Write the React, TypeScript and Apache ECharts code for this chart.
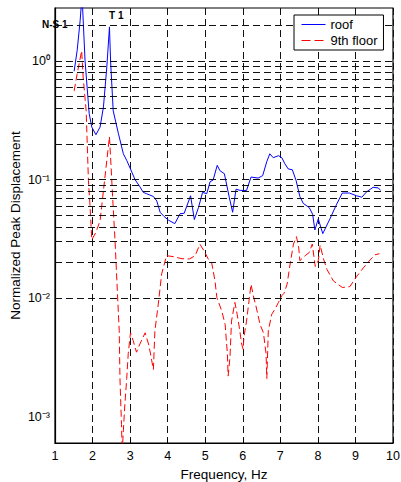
import React, { useEffect, useRef } from "react";
import * as echarts from "echarts";

// Roof response (frequency in Hz, normalized peak displacement)
const roofFreq = [
  1.51, 1.59, 1.67, 1.72, 1.8, 1.91, 1.98, 2.09, 2.2, 2.29, 2.38, 2.45, 2.48, 2.55, 2.69, 2.82,
  2.91, 3.0, 3.13, 3.26, 3.35, 3.44, 3.62, 3.71, 3.8, 3.9, 4.02, 4.19, 4.33, 4.44, 4.61, 4.71,
  4.82, 4.93, 5.04, 5.13, 5.21, 5.32, 5.39, 5.51, 5.64, 5.73, 5.82, 5.93, 6.1, 6.22, 6.41, 6.53,
  6.64, 6.72, 6.81, 6.95, 7.04, 7.12, 7.21, 7.32, 7.42, 7.52, 7.61, 7.77, 7.86, 7.92, 8.01, 8.13,
  8.32, 8.5, 8.65, 8.84, 9.03, 9.17, 9.3, 9.47, 9.61, 9.67,
];
const roofDisp = [
  0.82, 1.23, 2.2, 3.6, 1.01, 0.36, 0.277, 0.239, 0.277, 0.41, 0.89, 1.94, 1.0, 0.38, 0.243, 0.165,
  0.145, 0.125, 0.1, 0.087, 0.078, 0.076, 0.072, 0.066, 0.053, 0.049, 0.0455, 0.0425, 0.0515, 0.052, 0.073, 0.046,
  0.058, 0.078, 0.076, 0.096, 0.099, 0.132, 0.119, 0.112, 0.071, 0.053, 0.083, 0.081, 0.081, 0.105, 0.103, 0.108,
  0.142, 0.165, 0.153, 0.159, 0.153, 0.136, 0.123, 0.121, 0.098, 0.072, 0.063, 0.058, 0.051, 0.0376, 0.0466, 0.035,
  0.0466, 0.062, 0.077, 0.077, 0.073, 0.071, 0.079, 0.086, 0.085, 0.081,
];

// 9th floor response
const floorFreq = [
  1.51, 1.59, 1.71, 1.75, 1.83, 1.89, 1.93, 1.98, 2.09, 2.2, 2.24, 2.29, 2.38, 2.45, 2.48, 2.54,
  2.6, 2.66, 2.71, 2.73, 2.77, 2.79, 2.82, 2.86, 2.91, 2.95, 3.01, 3.08, 3.17, 3.26, 3.4, 3.5,
  3.62, 3.66, 3.75, 3.84, 3.97, 4.15, 4.38, 4.58, 4.73, 4.86, 4.97, 5.08, 5.17, 5.26, 5.31, 5.44,
  5.53, 5.59, 5.61, 5.66, 5.7, 5.79, 5.85, 5.91, 5.97, 6.01, 6.03, 6.1, 6.22, 6.28, 6.35, 6.46,
  6.55, 6.62, 6.64, 6.68, 6.77, 6.86, 6.95, 7.04, 7.1, 7.18, 7.26, 7.35, 7.43, 7.49, 7.52, 7.66,
  7.77, 7.85, 7.93, 8.01, 8.06, 8.15, 8.24, 8.41, 8.65, 8.85, 9.03, 9.21, 9.39, 9.52, 9.64,
];
const floorDisp = [
  0.56, 0.78, 1.22, 0.73, 0.38, 0.098, 0.062, 0.031, 0.036, 0.045, 0.058, 0.081, 0.145, 0.23, 0.154, 0.066,
  0.03, 0.0115, 0.0053, 0.0021, 0.00086, 0.0005, 0.00076, 0.00127, 0.0021, 0.0034, 0.0051, 0.0044, 0.0035, 0.0041, 0.0051, 0.004,
  0.0025, 0.0053, 0.0089, 0.016, 0.0228, 0.0224, 0.0215, 0.0214, 0.0228, 0.0285, 0.025, 0.0214, 0.02, 0.014, 0.0101, 0.0078,
  0.006, 0.0034, 0.0022, 0.0032, 0.0064, 0.0092, 0.0073, 0.0056, 0.0041, 0.0037, 0.0047, 0.0064, 0.0131, 0.0105, 0.0086, 0.006,
  0.0051, 0.0034, 0.0021, 0.0053, 0.0073, 0.0081, 0.0092, 0.0105, 0.011, 0.0131, 0.0194, 0.0286, 0.033, 0.0265, 0.0207, 0.0228,
  0.0243, 0.0286, 0.0185, 0.0207, 0.028, 0.0214, 0.0175, 0.014, 0.0123, 0.0125, 0.0152, 0.018, 0.021, 0.0232, 0.0237,
];

// Axis extents
const xMin = 1;
const xMax = 10;
const yMin = 6e-4;
const yMax = 2.8;

// Logarithmic grid lines: mantissas 1..9 for each decade
const decades = [-4, -3, -2, -1, 0];
const mantissas = [1, 2, 3, 4, 5, 6, 7, 8, 9];

const seriesNames = ["roof", "9th floor"];
const FONT = "'Liberation Sans', Arial, Helvetica, sans-serif";
const GRID_DASH = [7, 4];
const FLOOR_DASH = [7, 3.5];

const SUP: Record<string, string> = {
  "-": "\u207B",
  "0": "\u2070",
  "1": "\u00B9",
  "2": "\u00B2",
  "3": "\u00B3",
};

function powLabel(v: number): string {
  const e = Math.log10(v);
  const r = Math.round(e);
  if (Math.abs(e - r) > 1e-6) return "";
  const s = String(r)
    .split("")
    .map((c) => SUP[c] ?? c)
    .join("");
  return "10" + s;
}

export default function App() {
  const ref = useRef<HTMLDivElement>(null);

  useEffect(() => {
    if (!ref.current) return;
    const chart = echarts.init(ref.current, null, { renderer: "svg" });

    const gridValues: number[] = [];
    decades.forEach((d) =>
      mantissas.forEach((m) => {
        const v = m * Math.pow(10, d);
        if (v >= yMin * 0.999 && v <= yMax) gridValues.push(v);
      })
    );

    const roofData = roofFreq.map((f, i) => [f, roofDisp[i]]);
    const floorData = floorFreq.map((f, i) => [f, floorDisp[i]]);

    chart.setOption({
      animation: false,
      backgroundColor: "#fff",
      textStyle: { fontFamily: FONT },
      grid: {
        left: 55,
        top: 8,
        width: 338,
        height: 435,
        outerBoundsMode: "none",
        containLabel: false,
        show: true,
        borderColor: "#000",
        borderWidth: 1.2,
        backgroundColor: "transparent",
      },
      legend: {
        data: [
          { name: seriesNames[0] },
          { name: seriesNames[1], lineStyle: { type: [9, 4] } },
        ],
        orient: "vertical",
        left: 294,
        top: 15,
        z: 20,
        padding: [3, 6, 3, 7],
        itemGap: 3,
        itemWidth: 24,
        itemHeight: 10,
        backgroundColor: "#fff",
        borderColor: "#000",
        borderWidth: 1,
        itemStyle: { opacity: 0 },
        lineStyle: { width: 1 },
        textStyle: { fontFamily: FONT, fontSize: 13, color: "#000" },
      },
      xAxis: {
        type: "value",
        min: xMin,
        max: xMax,
        interval: 1,
        name: "Frequency, Hz",
        nameLocation: "middle",
        nameGap: 24,
        nameTextStyle: { fontFamily: FONT, fontSize: 13.5, color: "#000" },
        axisLine: { show: true, lineStyle: { color: "#000", width: 1.2 } },
        axisTick: { show: true, inside: true, length: 4, lineStyle: { color: "#000" } },
        axisLabel: { fontFamily: FONT, fontSize: 12.5, color: "#000", margin: 6 },
        splitLine: {
          show: true,
          lineStyle: { color: "#111", width: 1, type: GRID_DASH },
        },
      },
      yAxis: {
        type: "log",
        logBase: 10,
        min: yMin,
        max: yMax,
        name: "Normalized Peak Displacement",
        nameLocation: "middle",
        nameGap: 33,
        nameMoveOverlap: false,
        nameTextStyle: { fontFamily: FONT, fontSize: 13.5, color: "#000" },
        axisLine: { show: true, lineStyle: { color: "#000", width: 1.2 } },
        axisTick: { show: false },
        axisLabel: {
          fontFamily: FONT,
          fontSize: 12.5,
          color: "#000",
          margin: 5,
          showMinLabel: false,
          showMaxLabel: false,
          formatter: (v: number) => powLabel(v),
        },
        splitLine: { show: false },
      },
      graphic: [
        {
          type: "text",
          left: 42,
          top: 19,
          style: { text: "N-S 1", font: `bold 10px ${FONT}`, fill: "#000" },
          z: 10,
        },
        {
          type: "text",
          left: 109,
          top: 10,
          style: { text: "T 1", font: `bold 10px ${FONT}`, fill: "#000" },
          z: 10,
        },
      ],
      series: [
        {
          name: "grid",
          type: "line",
          data: [],
          silent: true,
          markLine: {
            silent: true,
            symbol: "none",
            label: { show: false },
            lineStyle: { color: "#111", width: 1, type: GRID_DASH },
            data: gridValues.map((v) => ({ yAxis: v })),
          },
          z: 1,
        },
        {
          name: seriesNames[0],
          type: "line",
          data: roofData,
          showSymbol: false,
          symbol: "none",
          clip: true,
          lineStyle: { color: "#0000ff", width: 1 },
          itemStyle: { color: "#0000ff" },
          z: 3,
        },
        {
          name: seriesNames[1],
          type: "line",
          data: floorData,
          showSymbol: false,
          symbol: "none",
          clip: true,
          lineStyle: { color: "#ff0000", width: 1, type: FLOOR_DASH },
          itemStyle: { color: "#ff0000" },
          z: 2,
        },
      ],
    });

    return () => chart.dispose();
  }, []);

  return (
    <div
      ref={ref}
      style={{ position: "absolute", left: 0, top: 0, width: 401, height: 482 }}
    />
  );
}
